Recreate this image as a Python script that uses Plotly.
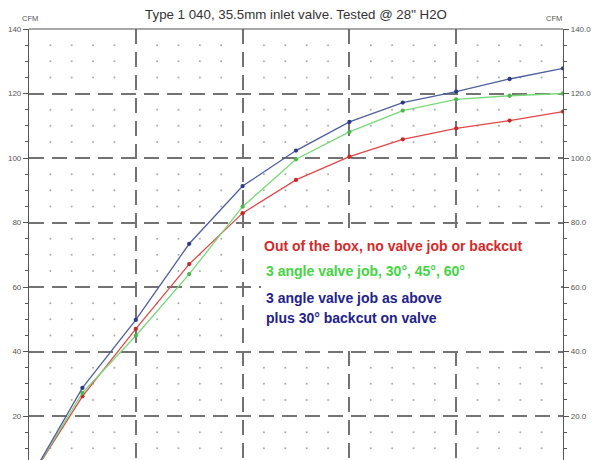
import numpy as np
import plotly.graph_objects as go

# Valve lift (in) and flow (CFM @ 28" H2O)
lift = [0.0, 0.05, 0.10, 0.15, 0.20, 0.25, 0.30, 0.35, 0.40, 0.45, 0.50]
out_of_box = [0.0, 26.1, 47.0, 67.1, 82.9, 93.2, 100.4, 105.8, 109.2, 111.6, 114.4]
three_angle = [0.0, 27.2, 44.9, 64.0, 84.9, 99.6, 108.1, 114.7, 118.2, 119.3, 120.0]
three_angle_backcut = [0.0, 28.7, 49.8, 73.4, 91.3, 102.3, 111.2, 117.2, 120.6, 124.5, 127.8]

y_major = [20, 40, 60, 80, 100, 120, 140]
x_major = [0.1, 0.2, 0.3, 0.4]

OFF = 8  # page body margin in the browser
W, H = 600 - OFF, 460 - OFF
ML, MR, MT, MB = 29 - OFF, 37, 29 - OFF, 0
Y_TOP = 140
PX_PER_UNIT = 3.225
Y_BOT = Y_TOP - (H - MT - MB) / PX_PER_UNIT

fig = go.Figure()

# minor grid dot lattice
gx = [v for v in np.round(np.arange(0.02, 0.5, 0.02), 3) if abs(v * 10 - round(v * 10)) > 1e-6]
gy = [v for v in range(10, 140, 5) if v % 20 != 0]
lx, ly = np.meshgrid(gx, gy)
fig.add_trace(go.Scatter(x=lx.ravel(), y=ly.ravel(), mode="markers",
                         marker=dict(size=2.0, color="#ababab"),
                         hoverinfo="skip", showlegend=False))

series = [
    (out_of_box, "#e04848", "#c82828"),
    (three_angle, "#78d878", "#4cb84c"),
    (three_angle_backcut, "#4f5f9f", "#2b3a88"),
]
for vals, lc, mc in series:
    fig.add_trace(go.Scatter(x=lift, y=vals, mode="lines+markers",
                             line=dict(color=lc, width=1.3),
                             marker=dict(size=4.3, color=mc),
                             showlegend=False))

# invisible trace to activate right axis
fig.add_trace(go.Scatter(x=[lift[0]], y=[Y_TOP], yaxis="y2", mode="markers",
                         marker=dict(opacity=0), showlegend=False, hoverinfo="skip"))

tick_font = dict(family="Liberation Sans, Arial, sans-serif", size=8, color="#555")
grid_style = dict(showgrid=True, gridcolor="#737373", gridwidth=1.5, griddash="15px,8px")

ph = H - MT - MB
pw = W - ML - MR


def px_x(p):
    return (p - OFF - ML) / pw


def px_y(p):
    return (H - MB - (p - OFF)) / ph


fig.update_layout(
    width=W, height=H,
    margin=dict(l=ML, r=MR, t=MT, b=MB, pad=0),
    paper_bgcolor="white", plot_bgcolor="white",
    title=dict(text='Type 1 040, 35.5mm inlet valve. Tested @ 28" H2O',
               x=(296 - OFF) / W, xanchor="center", y=1 - (14 - OFF) / H, yanchor="middle",
               font=dict(family="Liberation Sans, Arial, sans-serif", size=13.3, color="#333")),
    xaxis=dict(range=[0, 0.5], tickvals=x_major, showticklabels=False, ticks="",
               zeroline=False, showline=False, automargin=False, **grid_style),
    yaxis=dict(range=[Y_BOT, Y_TOP], tickvals=y_major, ticktext=[str(v) for v in y_major],
               ticks="outside", ticklen=5, tickcolor="#555", tickwidth=1,
               minor=dict(dtick=5, tick0=0, ticks="outside", ticklen=3, tickcolor="#555", showgrid=False),
               zeroline=False, showline=True, linecolor="#555", linewidth=1.2,
               tickfont=tick_font, automargin=False, **grid_style),
    yaxis2=dict(range=[Y_BOT, Y_TOP], overlaying="y", side="right", tickvals=y_major,
                ticktext=[f"{v:.1f}" for v in y_major],
                ticks="outside", ticklen=5, tickcolor="#555", tickwidth=1,
                minor=dict(dtick=5, tick0=0, ticks="outside", ticklen=3, tickcolor="#555", showgrid=False),
                showgrid=False, zeroline=False, showline=True, linecolor="#555", linewidth=1.2,
                tickfont=tick_font, automargin=False),
    shapes=[
        dict(type="line", xref="paper", yref="paper", x0=0, x1=1, y0=1, y1=1,
             line=dict(color="#555", width=1.2)),
        # white text box behind the notes
        dict(type="rect", xref="paper", yref="paper", layer="above",
             x0=px_x(261), x1=px_x(561), y0=px_y(344), y1=px_y(233),
             line=dict(width=0), fillcolor="white"),
    ],
)

ann_font = "Liberation Sans, Arial, sans-serif"
notes = [
    ("CFM", 30, 19, "#555", 7.5, False, "center"),
    ("CFM", 554, 19, "#555", 7.5, False, "center"),
    ("Out of the box, no valve job or backcut", 262, 246, "#d42a2a", 14, True, "left"),
    ("3 angle valve job, 30°, 45°, 60°", 264, 271, "#44d444", 14, True, "left"),
    ("3 angle valve job as above", 264, 298, "#22228a", 14, True, "left"),
    ("plus 30° backcut on valve", 264, 318, "#22228a", 14, True, "left"),
]
for txt, x, y, col, sz, bold, anc in notes:
    fig.add_annotation(text=f"<b>{txt}</b>" if bold else txt, xref="paper", yref="paper",
                       x=px_x(x), y=px_y(y), xanchor=anc, yanchor="middle",
                       showarrow=False, font=dict(family=ann_font, size=sz, color=col))

fig.write_html("out.html")
